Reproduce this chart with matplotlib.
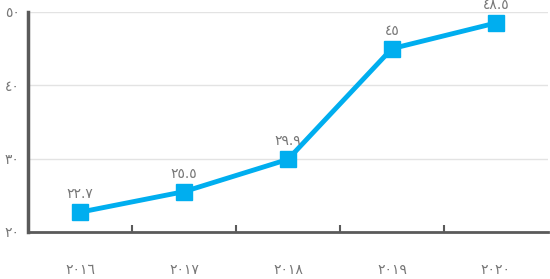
import matplotlib
matplotlib.use("Agg")
from matplotlib import pyplot as plt

years = ["٢٠١٦", "٢٠١٧", "٢٠١٨", "٢٠١٩", "٢٠٢٠"]
values = [22.7, 25.5, 29.9, 45, 48.5]
value_labels = ["٢٢.٧", "٢٥.٥", "٢٩.٩", "٤٥", "٤٨.٥"]
y_ticks = [20, 30, 40, 50]
y_tick_labels = ["٢٠", "٣٠", "٤٠", "٥٠"]

plt.rcParams['font.family'] = ['DejaVu Sans']

fig = plt.figure(figsize=(5.5, 2.79), dpi=100)
ax = fig.add_axes([0.051, 0.1685, 0.945, 0.7885])

x = list(range(len(years)))
ax.plot(x, values, color='#00AEEF', lw=3.5, marker='s', ms=12,
        solid_joinstyle='miter', zorder=3)

for xi, v, lab in zip(x, values, value_labels):
    ax.annotate(lab, (xi, v), xytext=(0, 8), textcoords='offset points',
                ha='center', va='bottom', fontsize=10, color='#777777')

ax.set_xlim(-0.5, len(years) - 0.5)
ax.set_ylim(20, 50)
ax.set_yticks(y_ticks)
ax.set_yticklabels(y_tick_labels)
ax.set_xticks(x)
ax.set_xticklabels(years)
ax.set_xticks([i + 0.5 for i in x[:-1]], minor=True)

ax.grid(axis='y', color='#e3e3e3', lw=1)
ax.set_axisbelow(True)
for s in ['top', 'right']:
    ax.spines[s].set_visible(False)
ax.spines['left'].set_color('#5a5a5a')
ax.spines['left'].set_linewidth(2.5)
ax.spines['bottom'].set_color('#5a5a5a')
ax.spines['bottom'].set_linewidth(2)

ax.tick_params(axis='y', length=0, pad=6, labelsize=10, labelcolor='#777777')
ax.tick_params(axis='x', which='major', length=0, pad=22, labelsize=10,
               labelcolor='#777777')
ax.tick_params(axis='x', which='minor', direction='in', length=5, width=1.5,
               color='#5a5a5a')

fig.savefig('out.png', dpi=100)
